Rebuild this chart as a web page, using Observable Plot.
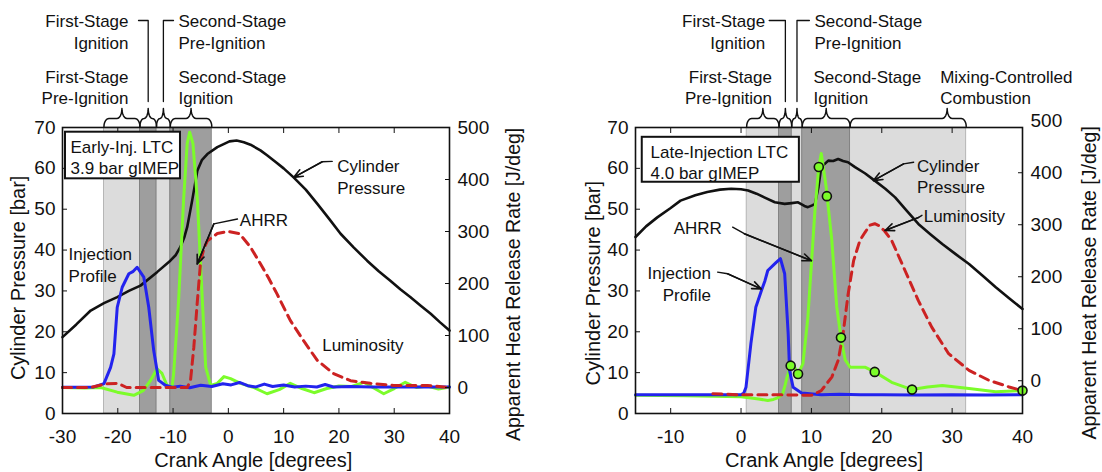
<!DOCTYPE html>
<html><head><meta charset="utf-8">
<script src="https://cdn.jsdelivr.net/npm/d3@7"></script>
<script src="https://cdn.jsdelivr.net/npm/@observablehq/plot@0.6"></script>
<style>
body{margin:0;background:#fff;}
#wrap{display:flex;width:1102px;height:472px;overflow:hidden;}
</style></head><body><div id="wrap"></div>
<script>
// ================= DATA =================
// ---- Early-injection LTC (left panel) ----
const earlyPressureAngle = [-30,-27.5,-24.9,-22.5,-20.1,-18,-15.9,-12.9,-10.5,-9.5,-8.7,-8.0,-7.45,-6.55,-5.6,-4.8,-3.8,-2.0,0.2,1.5,2.8,4.0,5.8,7.0,8.5,10.0,11.8,14.0,16.1,18.2,20.3,22.7,25.1,27.2,29.3,31.1,32.9,34.8,36.6,38.3,40];
const earlyPressure      = [18.7,21.8,25.2,27.0,28.5,30.0,31.3,34.6,37.4,38.8,40.7,43.0,45.6,52.1,59.5,62.0,63.5,65.2,66.6,66.8,66.4,65.8,64.4,63.2,61.6,60.0,57.8,54.8,51.3,47.7,44.0,40.6,37.4,34.8,32.5,30.4,28.5,26.4,24.4,22.3,20.3];
const earlyInjAngle = [-30,-27,-24.3,-22.5,-21.3,-20.7,-20.1,-19.2,-18.0,-17.2,-16.5,-15.3,-14.4,-13.5,-12.6,-11.4,-10,-8.7,-7,-5,-3,-1,0.5,2,3.5,5,6.5,8,10,12,14,16,17.5,19,22,26,30,35,40];
const earlyInj      = [6.4,6.4,6.5,7.3,11.3,14.6,26.0,30.9,34.2,34.8,35.8,33.4,26.0,15.4,8.1,6.9,6.4,6.7,6.3,6.9,6.6,7.3,7.0,7.6,6.8,6.5,7.2,6.6,7.0,6.5,6.7,6.5,7.1,6.5,6.6,6.5,6.5,6.5,6.5];
const earlyAhrrAngle = [-30,-26,-23.1,-20.1,-17.1,-15.4,-14.1,-12.9,-12.0,-11.1,-10.2,-9.9,-9.0,-8.1,-7.45,-7.0,-6.4,-5.6,-4.7,-4.1,-3.2,-2.0,-0.8,0.4,2.2,4.6,7.0,9.2,11.2,13.3,15.5,17.8,20.0,22.3,24.5,26.3,28.1,30,32.0,34,36.0,38,40];
const earlyAhrr      = [0,-1,0,-9,-15,-6,13,36,27,4,0,26,167,360,469,491,469,360,167,39,4,8,21,17,8,0,-12,-4,8,-2,-10,-2,3,2,10,-1,-12,-2,10,0,3,-3,1];
const earlyLumAngle = [-30,-25,-22,-20,-18.4,-10,-7.45,-6.85,-6.25,-5.6,-5.0,-4.4,-3.8,-2.0,0,2.0,4.0,5.8,7.3,8.8,11.2,13.6,16.1,19.0,22.1,25.7,29.9,36,40];
const earlyLum      = [0,0,7,8,0,0,0,13,77,167,244,268,282,296,300,296,270,238,210,180,129,90,52,27,13,8,4,4,0];
const earlyStageStart = [-22.5,-16,-13,-10.5];
const earlyStageEnd   = [-16,-13,-10.5,-3];
const earlyStageShade = ["light","dark","light","dark"];
const earlyStageNames = ["First-Stage\nPre-Ignition","First-Stage\nIgnition","Second-Stage\nPre-Ignition","Second-Stage\nIgnition"];
const earlyCaseText = "Early-Inj. LTC\n3.9 bar gIMEP";

// ---- Late-injection LTC (right panel) ----
const latePressureAngle = [-15,-13.5,-11.9,-10,-8.6,-6.5,-4.8,-3,-1.4,0,1.0,2.2,3.3,4.8,6.2,7.2,8.1,9.0,9.5,10.2,10.5,11.0,11.4,12.4,13.1,13.8,14.5,15.2,16.2,17.6,19.0,20.5,21.9,23.5,25.2,26.9,28.6,30.5,32.4,34.3,36.2,38.1,40];
const latePressure      = [43.2,45.8,48.0,50.3,52.1,53.4,54.2,54.8,55.0,54.9,54.6,53.8,52.9,51.7,51.3,51.5,51.7,50.8,50.5,51.0,51.3,55.4,60.3,61.9,61.8,62.3,61.8,61.5,60.3,58.8,57.0,55.0,52.9,49.7,46.4,43.9,41.5,39.0,36.6,33.8,30.9,28.2,25.6];
const lateInjAngle = [-15,-5,0,0.4,0.7,1.0,1.4,2.1,2.9,3.4,3.8,5.0,5.6,6.2,6.7,6.9,7.4,8.6,11.4,14,17,20,25,30,35,40];
const lateInj      = [4.6,4.6,4.6,5.0,6.4,11,17.1,26,30.1,32.5,35,37,37.9,34.2,19.5,10.5,6.4,5.0,4.6,4.7,4.6,4.6,4.5,4.6,4.5,4.6];
const lateAhrrAngle = [-15,-8,0,2.5,3.8,4.6,5.2,5.9,6.2,6.5,7.05,7.6,8.1,8.8,9.5,10.5,11.05,11.4,12.1,12.9,13.6,14.2,14.8,15.5,17.6,19.0,21.4,24.3,26.5,28.6,30.5,32.4,36.2,40];
const lateAhrr      = [-28,-29,-31,-35,-38,-36,-33,-25,-12,5,29,26,13,33,122,327,411,437,372,270,142,83,40,26,26,17,-3,-17,-12,-9,-12,-15,-21,-19];
const lateLumAngle = [-4,0,5,10,11.4,12.9,13.8,14.5,15.2,16.0,16.9,17.6,18.3,19.0,19.5,20.4,21.4,23.3,25.2,27.1,29.5,32.4,35.2,38.1,40];
const lateLum      = [-25,-27,-27,-28,-19,7,39,90,165,231,270,285,299,302,299,288,270,212,154,103,52,20,1,-12,-19];
const lateDotAngle = [7.05,8.1,11.05,12.2,14.2,19.0,24.3,40];
const lateDotAhrr  = [29,13,411,355,83,17,-17,-19];
const lateStageStart = [0.8,5.4,7.2,8.7,15.5];
const lateStageEnd   = [5.4,7.2,8.7,15.5,32];
const lateStageShade = ["light","dark","light","dark","light"];
const lateStageNames = ["First-Stage\nPre-Ignition","First-Stage\nIgnition","Second-Stage\nPre-Ignition","Second-Stage\nIgnition","Mixing-Controlled\nCombustion"];
const lateCaseText = "Late-Injection LTC\n4.0 bar gIMEP";

// ---- axis ticks / titles ----
const pressureTicks = [0,10,20,30,40,50,60,70];
const ahrrTicks = [0,100,200,300,400,500];
const earlyAngleTicks = [-30,-20,-10,0,10,20,30,40];
const lateAngleTicks = [-10,0,10,20,30,40];
const xTitle = "Crank Angle [degrees]";
const yTitle = "Cylinder Pressure [bar]";
const y2Title = "Apparent Heat Release Rate [J/deg]";

// ================= LAYOUT =================
const FONT = '"Liberation Sans", Arial, Helvetica, sans-serif';
const INK = "#111";
const COLORS = {pressure: INK, inj: "#2323ee", ahrr: "#7cfc2a", lum: "#cc2222", light: "#dcdcdc", dark: "#9e9e9e"};

const panels = [
  {
    width: 551, height: 472, ml: 62, mr: 102, mt: 127, mb: 59,
    xDomain: [-30, 40], rDomain: [-50, 500], xTicks: earlyAngleTicks, xTitleX: 4.5,
    yTitlePos: {x: -37.96, y: 33.2}, y2TitlePos: {x: 51.57, y: 31.6},
    pA: earlyPressureAngle, p: earlyPressure, iA: earlyInjAngle, i: earlyInj,
    aA: earlyAhrrAngle, a: earlyAhrr, lA: earlyLumAngle, l: earlyLum, dA: [], d: [],
    sS: earlyStageStart, sE: earlyStageEnd, sShade: earlyStageShade, sNames: earlyStageNames,
    tipFrac: [0.5,0.5,0.5,0.5],
    labels: [
      {x: -18.06, row: "lower", anchor: "end"},
      {x: -18.06, row: "upper", anchor: "end", leaderFrom: -16.25},
      {x: -9.02, row: "upper", anchor: "start", leaderFrom: -9.92},
      {x: -9.02, row: "lower", anchor: "start"}
    ],
    box: {text: earlyCaseText, x1: -29.46, x2: -8.66, y1: 57.44, y2: 68.85, tx: -28.55, ty: 62.9},
    notes: [
      {t: "Injection\nProfile", x: -28.9, y: 36.5, anchor: "start"},
      {t: "AHRR", x: 2.07, y: 47.7, anchor: "start"},
      {t: "Cylinder\nPressure", x: 19.68, y: 58.05, anchor: "start"},
      {t: "Luminosity", x: 16.97, y: 17.06, anchor: "start"}
    ],
    arrows: [
      [[1.65,47.6],[-2.63,46.4],[-5.64,36.6]],
      [[18.78,61.7],[16.97,61.6],[11.83,57.8]]
    ]
  },
  {
    width: 551, height: 472, ml: 84, mr: 80, mt: 127, mb: 59,
    xDomain: [-15, 40], rDomain: [-63, 487], xTicks: lateAngleTicks, xTitleX: 11.8,
    yTitlePos: {x: -21.0, y: 31.9}, y2TitlePos: {x: 49.53, y: 32.0},
    pA: latePressureAngle, p: latePressure, iA: lateInjAngle, i: lateInj,
    aA: lateAhrrAngle, a: lateAhrr, lA: lateLumAngle, l: lateLum, dA: lateDotAngle, d: lateDotAhrr,
    sS: lateStageStart, sE: lateStageEnd, sShade: lateStageShade, sNames: lateStageNames,
    tipFrac: [0.5,0.5,0.5,0.5,0.836],
    labels: [
      {x: 4.39, row: "lower", anchor: "end"},
      {x: 3.43, row: "upper", anchor: "end", leaderFrom: 4.0},
      {x: 10.43, row: "upper", anchor: "start", leaderFrom: 9.71},
      {x: 10.29, row: "lower", anchor: "start"},
      {x: 28.3, row: "lower", anchor: "start"}
    ],
    box: {text: lateCaseText, x1: -14.04, x2: 8.29, y1: 56.6, y2: 67.6, tx: -12.86, ty: 61.7},
    notes: [
      {t: "AHRR", x: -9.57, y: 45.6, anchor: "start"},
      {t: "Injection\nProfile", x: -4.29, y: 31.9, anchor: "end"},
      {t: "Cylinder\nPressure", x: 25.0, y: 58.2, anchor: "start"},
      {t: "Luminosity", x: 25.96, y: 48.5, anchor: "start"}
    ],
    arrows: [
      [[-1.19,45.6],[0.47,44.0],[10.0,37.4]],
      [[-3.33,34.6],[-1.9,34.2],[2.86,30.5]],
      [[24.53,61.5],[23.1,61.1],[18.81,57.0]],
      [[25.71,48.5],[25.24,48.0],[20.47,44.8]]
    ]
  }
];

function makePanel(P) {
  const Y0 = 0, Y1 = 70;
  const toL = v => (v - P.rDomain[0]) / (P.rDomain[1] - P.rDomain[0]) * (Y1 - Y0);
  const fromL = y => y / (Y1 - Y0) * (P.rDomain[1] - P.rDomain[0]) + P.rDomain[0];
  const pxPerDeg = (P.width - P.ml - P.mr) / (P.xDomain[1] - P.xDomain[0]);
  const barPerPx = (Y1 - Y0) / (P.height - P.mt - P.mb);
  const pxY = px => Y1 + (P.mt - px) * barPerPx;   // svg px (from top) -> bar units

  const pressure = P.pA.map((x, k) => ({x, y: P.p[k]}));
  const inj = P.iA.map((x, k) => ({x, y: P.i[k]}));
  const ahrr = P.aA.map((x, k) => ({x, y: toL(P.a[k])}));
  const lum = P.lA.map((x, k) => ({x, y: toL(P.l[k])}));
  const dots = P.dA.map((x, k) => ({x, y: toL(P.d[k])}));

  const rowY = {upper: pxY(30.5), lower: pxY(86)};
  const leadTop = pxY(20), leadBot = pxY(101);
  const stages = P.sS.map((s, k) => {
    const e = P.sE[k];
    return {x1: s, x2: e, shade: P.sShade[k], name: P.sNames[k], tip: s + (e - s) * P.tipFrac[k],
            lx: P.labels[k].x, ly: rowY[P.labels[k].row], anchor: P.labels[k].anchor, leaderFrom: P.labels[k].leaderFrom};
  });

  // curly braces
  const yb0 = pxY(126), yb1 = pxY(118), yb2 = pxY(108);
  const rMax = 5 / pxPerDeg;
  const brace = [];
  stages.forEach((st, id) => {
    const a = st.x1, b = st.x2, t = st.tip, n = 8;
    const rl = Math.min(rMax, (t - a) / 2), rr = Math.min(rMax, (b - t) / 2);
    for (let j = 0; j <= n; j++) { const th = j / n * Math.PI / 2; brace.push({id, x: a + rl * (1 - Math.cos(th)), y: yb0 + (yb1 - yb0) * Math.sin(th)}); }
    for (let j = 0; j <= n; j++) { const th = j / n * Math.PI / 2; brace.push({id, x: t - rl + rl * Math.sin(th), y: yb1 + (yb2 - yb1) * (1 - Math.cos(th))}); }
    for (let j = 0; j <= n; j++) { const th = j / n * Math.PI / 2; brace.push({id, x: t + rr * (1 - Math.cos(th)), y: yb2 - (yb2 - yb1) * Math.sin(th)}); }
    for (let j = 0; j <= n; j++) { const th = j / n * Math.PI / 2; brace.push({id, x: b - rr + rr * Math.sin(th), y: yb1 - (yb1 - yb0) * (1 - Math.cos(th))}); }
  });
  const leaders = [];
  stages.forEach((st, id) => {
    if (st.leaderFrom === undefined) return;
    leaders.push({id, x: st.leaderFrom, y: leadTop}, {id, x: st.tip, y: leadTop}, {id, x: st.tip, y: leadBot});
  });

  const arrowLines = [], arrowHeads = [];
  P.arrows.forEach((pts, id) => {
    pts.forEach(([x, y]) => arrowLines.push({id, x, y}));
    const [xa, ya] = pts[pts.length - 2], [xb, yb] = pts[pts.length - 1];
    arrowHeads.push({x1: xa, y1: ya, x2: xb, y2: yb});
  });

  const txt = {fill: INK, fontSize: 17, lineHeight: 1.27, fontFamily: FONT};
  const rTickPos = ahrrTicks.map(toL);
  const noLabel = () => null;

  return Plot.plot({
    width: P.width, height: P.height,
    marginLeft: P.ml, marginRight: P.mr, marginTop: P.mt, marginBottom: P.mb,
    x: {domain: P.xDomain},
    y: {domain: [Y0, Y1]},
    style: {fontFamily: FONT, fontSize: "19px", color: INK, background: "white", overflow: "visible"},
    marks: [
      Plot.rect(stages.filter(d => d.shade === "light"), {x1: "x1", x2: "x2", fill: COLORS.light, stroke: "#a8a8a8", strokeWidth: 0.8}),
      Plot.rect(stages.filter(d => d.shade === "dark"), {x1: "x1", x2: "x2", fill: COLORS.dark, stroke: "#7a7a7a", strokeWidth: 0.8}),
      Plot.line(pressure, {x: "x", y: "y", stroke: COLORS.pressure, strokeWidth: 2.6}),
      Plot.line(ahrr, {x: "x", y: "y", stroke: COLORS.ahrr, strokeWidth: 3}),
      Plot.line(inj, {x: "x", y: "y", stroke: COLORS.inj, strokeWidth: 3}),
      Plot.line(lum, {x: "x", y: "y", stroke: COLORS.lum, strokeWidth: 3, strokeDasharray: "9,6"}),
      Plot.dot(dots, {x: "x", y: "y", r: 4.5, fill: COLORS.ahrr, stroke: INK, strokeWidth: 1.6}),
      // axes
      Plot.axisY(pressureTicks, {anchor: "left", tickSize: 0, tickPadding: 7, label: null, fontSize: 19, tickFormat: d => String(d)}),
      Plot.axisY(pressureTicks, {anchor: "left", tickSize: -5, tickFormat: noLabel, label: null}),
      Plot.axisY(rTickPos, {anchor: "right", tickSize: 0, tickPadding: 8, label: null, fontSize: 19, tickFormat: d => String(Math.round(fromL(d)))}),
      Plot.axisY(rTickPos.filter(v => v <= Y1), {anchor: "right", tickSize: -5, tickFormat: noLabel, label: null}),
      Plot.axisX(P.xTicks, {anchor: "bottom", tickSize: 0, tickPadding: 16, label: null, fontSize: 19, tickFormat: d => String(d)}),
      Plot.axisX(P.xTicks, {anchor: "bottom", tickSize: -5, tickFormat: noLabel, label: null}),
      Plot.axisX(P.xTicks, {anchor: "top", tickSize: -5, tickFormat: noLabel, label: null}),
      Plot.frame({stroke: INK, strokeWidth: 1.6}),
      // axis titles
      Plot.text([{t: yTitle, ...P.yTitlePos}], {x: "x", y: "y", text: "t", rotate: -90, fontSize: 20, fill: INK}),
      Plot.text([{t: y2Title, ...P.y2TitlePos}], {x: "x", y: "y", text: "t", rotate: -90, fontSize: 19.5, fill: INK}),
      Plot.text([{t: xTitle, x: P.xTitleX}], {frameAnchor: "bottom", x: "x", text: "t", dy: 53, fontSize: 20, fill: INK}),
      // case box
      Plot.rect([P.box], {x1: "x1", x2: "x2", y1: "y1", y2: "y2", fill: "white", stroke: INK, strokeWidth: 2}),
      Plot.text([P.box], {x: "tx", y: "ty", text: "text", textAnchor: "start", ...txt}),
      // stage braces and labels
      Plot.line(brace, {x: "x", y: "y", z: "id", stroke: INK, strokeWidth: 1.5, curve: "linear"}),
      Plot.line(leaders, {x: "x", y: "y", z: "id", stroke: INK, strokeWidth: 1.3}),
      Plot.text(stages.filter(d => d.anchor === "end"), {x: "lx", y: "ly", text: "name", textAnchor: "end", ...txt}),
      Plot.text(stages.filter(d => d.anchor === "start"), {x: "lx", y: "ly", text: "name", textAnchor: "start", ...txt}),
      // curve annotations
      Plot.text(P.notes.filter(d => d.anchor === "start"), {x: "x", y: "y", text: "t", textAnchor: "start", ...txt}),
      Plot.text(P.notes.filter(d => d.anchor === "end"), {x: "x", y: "y", text: "t", textAnchor: "end", ...txt}),
      Plot.line(arrowLines, {x: "x", y: "y", z: "id", stroke: INK, strokeWidth: 1.4}),
      Plot.arrow(arrowHeads, {x1: "x1", y1: "y1", x2: "x2", y2: "y2", stroke: INK, strokeWidth: 1.6, headLength: 9, headAngle: 45})
    ]
  });
}

const wrap = document.getElementById("wrap");
panels.forEach(P => wrap.appendChild(makePanel(P)));
</script>
</body></html>
